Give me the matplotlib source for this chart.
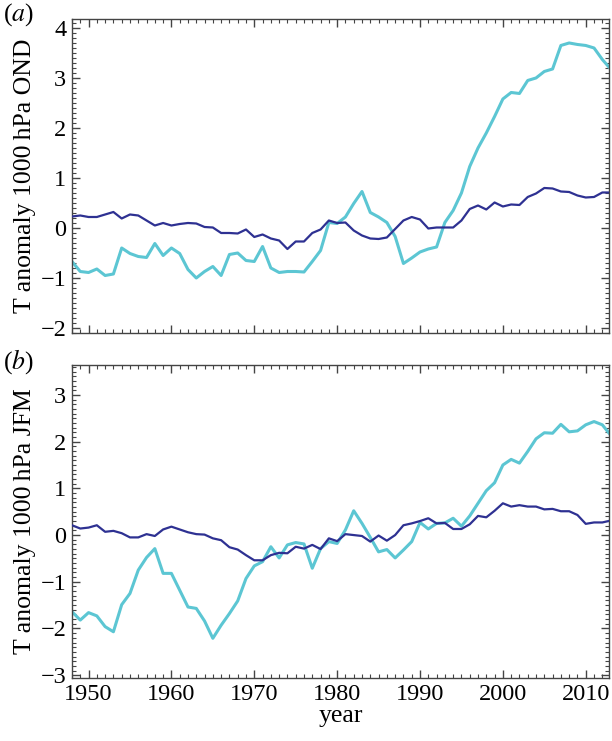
import matplotlib
matplotlib.use('Agg')
import matplotlib.pyplot as plt
from matplotlib.ticker import MultipleLocator
import numpy as np

plt.rcParams.update({'font.size': 17.5, 'font.family': 'Liberation Serif',
                     'mathtext.fontset': 'stix'})

years = np.arange(1948, 2014)

# panel (a): OND
ond_dark = [0.23, 0.25, 0.22, 0.22, 0.27, 0.32, 0.19, 0.27, 0.25, 0.15,
            0.05, 0.10, 0.05, 0.08, 0.10, 0.09, 0.02, 0.01, -0.10, -0.10,
            -0.11, -0.03, -0.18, -0.13, -0.21, -0.25, -0.42, -0.27, -0.27, -0.10,
            -0.03, 0.15, 0.10, 0.11, -0.05, -0.15, -0.21, -0.22, -0.19, -0.02,
            0.15, 0.22, 0.17, -0.01, 0.01, 0.01, 0.01, 0.15, 0.38, 0.45,
            0.37, 0.51, 0.43, 0.47, 0.46, 0.62, 0.69, 0.80, 0.79, 0.73,
            0.72, 0.65, 0.61, 0.62, 0.71, 0.71]
ond_cyan = [-0.67, -0.87, -0.89, -0.82, -0.95, -0.92, -0.40, -0.51, -0.57, -0.59,
            -0.31, -0.55, -0.40, -0.51, -0.83, -1.00, -0.87, -0.77, -0.95, -0.53,
            -0.50, -0.65, -0.67, -0.37, -0.80, -0.89, -0.87, -0.87, -0.88, -0.67,
            -0.45, 0.11, 0.09, 0.22, 0.49, 0.73, 0.31, 0.22, 0.11, -0.17,
            -0.71, -0.60, -0.48, -0.42, -0.38, 0.11, 0.35, 0.70, 1.23, 1.60,
            1.90, 2.23, 2.58, 2.71, 2.69, 2.95, 3.00, 3.13, 3.18, 3.65,
            3.70, 3.67, 3.65, 3.60, 3.37, 3.18]

# panel (b): JFM
jfm_dark = [0.21, 0.14, 0.16, 0.21, 0.07, 0.09, 0.04, -0.05, -0.05, 0.02,
            -0.02, 0.12, 0.18, 0.12, 0.06, 0.02, 0.01, -0.07, -0.11, -0.26,
            -0.31, -0.43, -0.54, -0.54, -0.43, -0.38, -0.39, -0.25, -0.29, -0.21,
            -0.30, -0.07, -0.13, 0.02, 0.00, -0.02, -0.14, -0.01, -0.12, 0.00,
            0.21, 0.25, 0.30, 0.36, 0.25, 0.26, 0.13, 0.13, 0.23, 0.41,
            0.38, 0.52, 0.68, 0.61, 0.64, 0.61, 0.61, 0.55, 0.56, 0.51,
            0.51, 0.43, 0.24, 0.27, 0.27, 0.31]
jfm_cyan = [-1.64, -1.82, -1.66, -1.73, -1.96, -2.07, -1.49, -1.25, -0.75, -0.48,
            -0.29, -0.82, -0.82, -1.18, -1.54, -1.57, -1.84, -2.21, -1.93, -1.68,
            -1.41, -0.93, -0.66, -0.57, -0.25, -0.49, -0.21, -0.16, -0.19, -0.71,
            -0.29, -0.14, -0.18, 0.11, 0.52, 0.25, -0.05, -0.36, -0.31, -0.49,
            -0.32, -0.14, 0.27, 0.13, 0.25, 0.26, 0.36, 0.19, 0.41, 0.68,
            0.95, 1.12, 1.50, 1.62, 1.54, 1.79, 2.06, 2.19, 2.18, 2.37,
            2.21, 2.23, 2.36, 2.43, 2.36, 2.14]

dark = '#2e3192'
cyan = '#5cc6d3'

fig = plt.figure(figsize=(6.12, 7.41), dpi=100)
ax1 = fig.add_axes([0.1176, 0.5506, 0.8774, 0.4238])
ax2 = fig.add_axes([0.1176, 0.0850, 0.8774, 0.4224])

panels = [(ax1, ond_dark, ond_cyan, (-2.1, 4.18), 'T anomaly 1000\u2009hPa OND', '(${\\it a}$)'),
          (ax2, jfm_dark, jfm_cyan, (-3.06, 3.64), 'T anomaly 1000\u2009hPa JFM', '(${\\it b}$)')]

for ax, d, c, ylim, ylab, tag in panels:
    ax.plot(years, c, color=cyan, lw=2.2, zorder=2)
    ax.plot(years, d, color=dark, lw=1.6, zorder=3)
    ax.set_xlim(1948, 2012.8)
    ax.set_ylim(*ylim)
    ax.xaxis.set_major_locator(MultipleLocator(10))
    ax.xaxis.set_minor_locator(MultipleLocator(1))
    ax.yaxis.set_major_locator(MultipleLocator(1))
    ax.yaxis.set_minor_locator(MultipleLocator(0.1))
    ax.tick_params(which='both', direction='in', top=True, right=True, color='#444444')
    ax.tick_params(which='major', length=6, width=1, pad=4)
    ax.tick_params(which='minor', length=3, width=0.8)
    ax.set_ylabel(ylab, fontsize=18.5, labelpad=3)
    for s in ax.spines.values():
        s.set_color('#444444')
        s.set_linewidth(1.0)
    ax.text(-0.128, 1.057, tag, transform=ax.transAxes, ha='left', va='top', fontsize=18.5)

ax1.set_xticklabels([])
ax2.set_xlabel('year', fontsize=18.5, labelpad=0)

plt.savefig('out.png', dpi=100)
